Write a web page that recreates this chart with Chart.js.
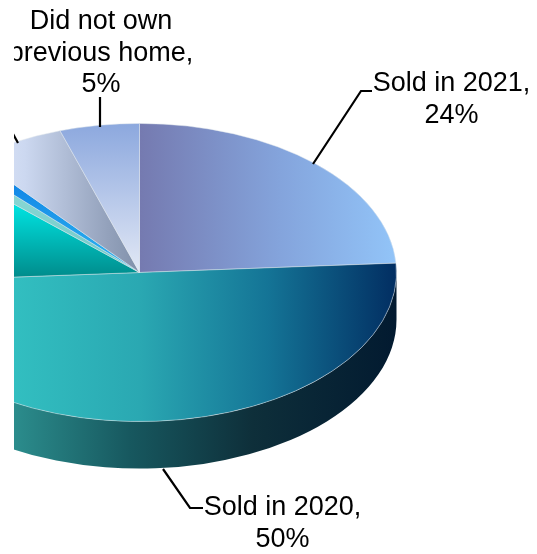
<!DOCTYPE html>
<html>
<head>
<meta charset="utf-8">
<title>Share of owners by sale year</title>
<style>
  html, body { margin: 0; padding: 0; background: #fff; }
  #frame { position: absolute; left: 14px; top: 0; width: 523px; height: 554px; overflow: hidden; }
  #pie { display: block; margin-left: -132px; }
</style>
<script src="https://cdn.jsdelivr.net/npm/chart.js@4"></script>
</head>
<body>
<div id="frame"><canvas id="pie" width="655" height="554"></canvas></div>
<script>
// Slices run clockwise from twelve o'clock. Some of them have no visible caption.
const categories = ['Sold in 2021', 'Sold in 2020', '', '', '', '', 'Did not own previous home'];
const shares = [24, 50, 13, 1, 1, 6, 5];

// Fill ramps for each slice: direction across the slice's bounding box, then colour stops.
const ramps = [
  ['x', [[0, '#757ab0'], [0.55, '#84a4dc'], [1, '#92c4f8']]],
  ['x', [[0, '#44d2d2'], [0.26, '#32bec0'], [0.5, '#2aa8b2'], [0.75, '#147496'], [1, '#022e62']]],
  ['y', [[0, '#00f4f4'], [0.3, '#00e4e2'], [1, '#008686']]],
  ['y', [[0, '#90dcd8'], [1, '#70c8c8']]],
  ['y', [[0, '#0878e4'], [1, '#30b8f0']]],
  ['x', [[0, '#e0e8fa'], [0.3, '#ccd8f0'], [0.8, '#94a2bc'], [1, '#8090aa']]],
  ['y', [[0, '#8ca8de'], [1, '#e2e8f5']]]
];
const wallStops = [[0, '#3aa5a0'], [0.257, '#2b8c8c'], [0.48, '#17585f'], [0.72, '#0e2f3a'], [1, '#021a30']];

const tilt = 0.58;       // vertical squash of the pie disc
const wallDepth = 47;    // height of the side wall in pixels
const rimColor = 'rgba(226,232,236,0.6)';

const captionFont = '27px "Liberation Sans", Arial, sans-serif';

function ramp(ctx, axis, from, to, stops) {
  const g = axis === 'x' ? ctx.createLinearGradient(from, 0, to, 0) : ctx.createLinearGradient(0, from, 0, to);
  stops.forEach(([at, color]) => g.addColorStop(at, color));
  return g;
}

// Bounding box of a slice on the unsquashed circle.
function sliceBox(arc) {
  const xs = [arc.x], ys = [arc.y];
  for (let i = 0; i <= 60; i++) {
    const a = arc.startAngle + (arc.endAngle - arc.startAngle) * i / 60;
    xs.push(arc.x + arc.outerRadius * Math.cos(a));
    ys.push(arc.y + arc.outerRadius * Math.sin(a));
  }
  return { x0: Math.min(...xs), x1: Math.max(...xs), y0: Math.min(...ys), y1: Math.max(...ys) };
}

function squash(ctx, arc) {
  ctx.translate(arc.x, arc.y);
  ctx.scale(1, tilt);
  ctx.translate(-arc.x, -arc.y);
}

// Side wall: the part of each slice's rim that faces the viewer.
function drawWall(ctx, arcs) {
  arcs.forEach(arc => {
    const a0 = Math.max(arc.startAngle, 0);
    const a1 = Math.min(arc.endAngle, Math.PI);
    if (a1 <= a0) return;
    const box = sliceBox(arc);
    const ry = arc.outerRadius * tilt;
    ctx.beginPath();
    ctx.ellipse(arc.x, arc.y, arc.outerRadius, ry, 0, a0, a1);
    ctx.ellipse(arc.x, arc.y + wallDepth, arc.outerRadius, ry, 0, a1, a0, true);
    ctx.closePath();
    ctx.fillStyle = ramp(ctx, 'x', box.x0, box.x1, wallStops);
    ctx.fill();
  });
}

function drawLeader(ctx, pts) {
  ctx.beginPath();
  pts.forEach(([x, y], i) => i ? ctx.lineTo(x, y) : ctx.moveTo(x, y));
  ctx.stroke();
}

function drawCaption(ctx, lines, cx, baselines) {
  lines.forEach((line, i) => ctx.fillText(line, cx, baselines[i]));
}

const tiltedPie = {
  id: 'tiltedPie',
  beforeDatasetsDraw(chart) {
    const ctx = chart.ctx;
    const arcs = chart.getDatasetMeta(0).data;
    arcs.forEach((arc, i) => {
      const box = sliceBox(arc);
      const [axis, stops] = ramps[i];
      // Resolved options are shared between arcs, so each arc gets its own layer on top.
      const own = Object.create(arc.options);
      own.backgroundColor = axis === 'x'
        ? ramp(ctx, 'x', box.x0, box.x1, stops)
        : ramp(ctx, 'y', box.y0, box.y1, stops);
      arc.options = own;
    });
    drawWall(ctx, arcs);
    ctx.save();
    squash(ctx, arcs[0]);
  },
  afterDatasetsDraw(chart) {
    const ctx = chart.ctx;
    ctx.restore();

    // Captions and leader lines are laid out in window coordinates.
    const left = chart.canvas.getBoundingClientRect().left;
    ctx.save();
    ctx.translate(-left, 0);
    ctx.strokeStyle = '#000';
    ctx.lineWidth = 2.2;
    drawLeader(ctx, [[100, 97], [100, 127]]);
    drawLeader(ctx, [[313, 164], [361, 91], [372, 91]]);
    drawLeader(ctx, [[163, 469], [190, 508], [203, 508]]);
    drawLeader(ctx, [[12, 132], [18, 143]]);

    ctx.fillStyle = '#000';
    ctx.font = captionFont;
    ctx.textAlign = 'center';
    ctx.textBaseline = 'alphabetic';
    const pct = i => shares[i] + '%';
    drawCaption(ctx, ['Did not own', 'previous home,', pct(6)], 101, [29, 61, 92]);
    drawCaption(ctx, [categories[0] + ',', pct(0)], 451.5, [91, 123]);
    drawCaption(ctx, [categories[1] + ',', pct(1)], 282.5, [515, 547]);
    ctx.restore();
  }
};

new Chart(document.getElementById('pie'), {
  type: 'pie',
  data: {
    labels: categories,
    datasets: [{
      data: shares,
      backgroundColor: '#888',
      borderColor: rimColor,
      borderWidth: 1,
      clip: false
    }]
  },
  options: {
    responsive: false,
    animation: false,
    events: [],
    layout: { padding: { left: 0, right: 140, top: 15, bottom: 24 } },
    plugins: { legend: { display: false }, tooltip: { enabled: false } }
  },
  plugins: [tiltedPie]
});
</script>
</body>
</html>
